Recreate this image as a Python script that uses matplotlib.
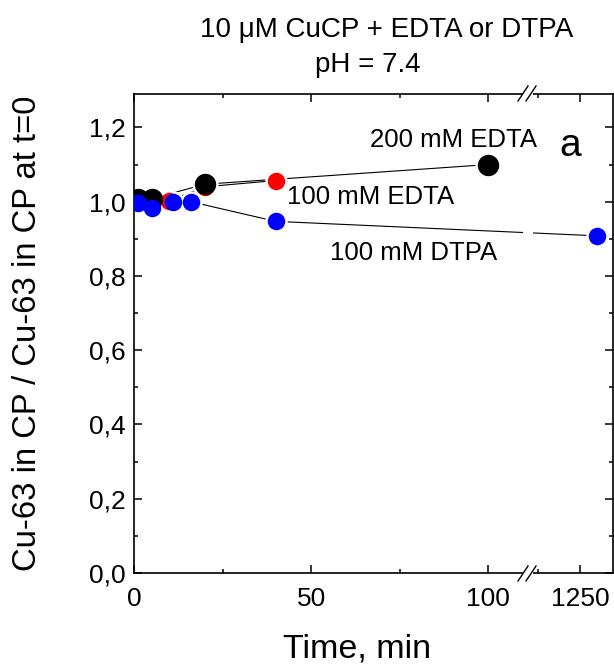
import matplotlib
matplotlib.use("Agg")
import matplotlib.pyplot as plt
import numpy as np
from matplotlib.ticker import FixedLocator, FuncFormatter
from matplotlib.patches import Rectangle

plt.rcParams['font.family'] = ['Liberation Sans', 'DejaVu Sans']

# data (time in min, Cu-63 ratio)
t_edta200 = [1, 5, 20, 100]
r_edta200 = [1.007, 1.008, 1.047, 1.100]
t_edta100 = [1, 10, 20, 40]
r_edta100 = [1.000, 1.003, 1.040, 1.057]
t_dtpa100 = [1, 5, 11, 16, 40, 1270]
r_dtpa100 = [0.996, 0.984, 1.000, 1.000, 0.947, 0.908]

xmajor = [0, 50, 100, 1250]
xminor = [25, 75, 1200]

# broken x axis: 0..111 then 1187..1289 compressed
X1, X2, K = 111.0, 1187.0, 0.2373


def fwd(x):
    x = np.asarray(x, dtype=float)
    return np.where(x <= X1, x, np.where(x >= X2, X1 + (x - X2) * K, X1))


def inv(u):
    u = np.asarray(u, dtype=float)
    return np.where(u <= X1, u, X2 + (u - X1) / K)


fig = plt.figure(figsize=(6.14, 6.64), dpi=100)
ax = fig.add_axes([134 / 614, 91 / 664, 479 / 614, 479 / 664])
ax.set_xscale('function', functions=(fwd, inv))
ax.set_xlim(0, 1289)
ax.set_ylim(0, 1.29)

series = [
    (t_edta100, r_edta100, 'red', 12.6),
    (t_edta200, r_edta200, 'black', 15.4),
    (t_dtpa100, r_dtpa100, 'blue', 12.6),
]
# connecting lines, white halos (line gaps at symbols), then symbols
for t, r, c, ms in series:
    ax.plot(t, r, color='black', lw=0.8, zorder=1)
for t, r, c, ms in series:
    ax.plot(t, r, ls='none', marker='o', ms=ms + 3.5, color='white', mew=0, zorder=2)
for t, r, c, ms in series:
    ax.plot(t, r, ls='none', marker='o', ms=ms, color=c, mew=0, zorder=3)

ax.xaxis.set_major_locator(FixedLocator(xmajor))
ax.xaxis.set_minor_locator(FixedLocator(xminor))
ax.xaxis.set_major_formatter(FuncFormatter(lambda v, p: f"{v:g}"))
ax.yaxis.set_major_locator(FixedLocator(np.arange(0, 1.21, 0.2)))
ax.yaxis.set_minor_locator(FixedLocator(np.arange(0.1, 1.25, 0.2)))
ax.yaxis.set_major_formatter(FuncFormatter(lambda v, p: f"{v:.1f}".replace('.', ',')))

for s in ax.spines.values():
    s.set_linewidth(1.2)
ax.tick_params(which='both', direction='in', top=True, right=True, width=1.1)
ax.tick_params(which='major', length=5.5, labelsize=19)
ax.tick_params(which='minor', length=3)
ax.tick_params(axis='x', pad=10)
ax.tick_params(axis='y', pad=6)

# axis break
xb = (527 - 134) / 479
ax.add_patch(Rectangle(((522.5 - 134) / 479, -0.012), 10 / 479, 1.024,
                       transform=ax.transAxes, facecolor='white', edgecolor='none',
                       clip_on=False, zorder=5))
for dx in (-4, 4):
    xc = xb + dx / 479
    ax.plot([xc - 5 / 479, xc + 5 / 479], [-8 / 479, 7 / 479], color='black',
            lw=1.0, transform=ax.transAxes, clip_on=False, zorder=6)
    ax.plot([xc - 5 / 479, xc + 5 / 479], [1 - 7 / 479, 1 + 8 / 479], color='black',
            lw=1.0, transform=ax.transAxes, clip_on=False, zorder=6)

ax.text(0.668, 0.890, '200 mM EDTA', transform=ax.transAxes, fontsize=18.5,
        ha='center', va='baseline', zorder=7)
ax.text(0.3194, 0.7704, '100 mM EDTA', transform=ax.transAxes, fontsize=18.5,
        ha='left', va='baseline', zorder=7)
ax.text(0.409, 0.6534, '100 mM DTPA', transform=ax.transAxes, fontsize=18.5,
        ha='left', va='baseline', zorder=7)
ax.text(0.889, 0.8706, 'a', transform=ax.transAxes, fontsize=28,
        ha='left', va='baseline', zorder=7)

fig.text(387 / 614, 1 - 36.7 / 664, '10 \u03bcM CuCP + EDTA or DTPA', fontsize=20,
         ha='center', va='baseline')
fig.text(368 / 614, 1 - 71.7 / 664, 'pH = 7.4', fontsize=20,
         ha='center', va='baseline')

fig.text(357.5 / 614, 1 - 658 / 664, 'Time, min', fontsize=24.5,
         ha='center', va='baseline')
fig.text(28 / 614, 1 - 333 / 664, 'Cu-63 in CP / Cu-63 in CP at t=0', fontsize=23.6,
         rotation=90, ha='center', va='center')

fig.savefig('out.png', dpi=100)
